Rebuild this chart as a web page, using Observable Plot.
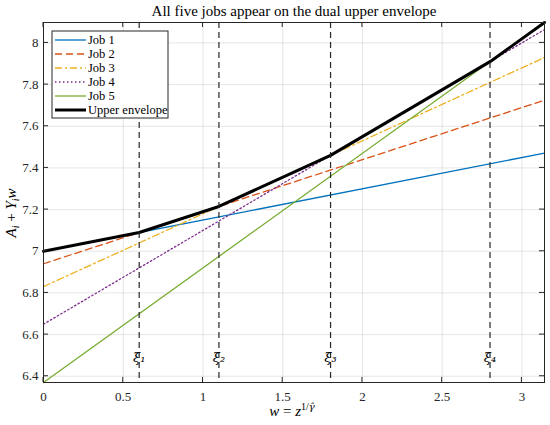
<!DOCTYPE html>
<html><head><meta charset="utf-8">
<script src="https://cdn.jsdelivr.net/npm/d3@7"></script>
<script src="https://cdn.jsdelivr.net/npm/@observablehq/plot@0.6"></script>
<style>body{margin:0;background:#fff;} svg{display:block;}</style>
</head><body><div id="chart"></div>
<script>
const jobs = ["Job 1","Job 2","Job 3","Job 4","Job 5"];
const wEnds = [0, 3.1416];
const startVals = [7.00, 6.94, 6.83, 6.65, 6.37];
const endVals = [7.471, 7.725, 7.930, 8.064, 8.098];
const colors = ["#0072BD","#D95319","#EDB120","#7E2F8E","#77AC30"];
const dashes = [null, "7,4", "7,3,2,3", "1.5,2.5", null];
const envW = [0, 0.6, 1.1, 1.8, 2.8, 3.1416];
const envV = [7.00, 7.09, 7.215, 7.46, 7.91, 8.098];
const breaks = [0.6, 1.1, 1.8, 2.8];
const breakLabels = ["ξ₁","ξ₂","ξ₃","ξ₄"];
const breakLabelY = 6.487;
const xTicks = [0, 0.5, 1, 1.5, 2, 2.5, 3];
const yTicks = [6.4, 6.6, 6.8, 7, 7.2, 7.4, 7.6, 7.8, 8];
const title = "All five jobs appear on the dual upper envelope";

const font = "'Liberation Serif', 'DejaVu Serif', serif";
const lineData = [];
jobs.forEach((j, i) => {
  lineData.push({job: j, w: wEnds[0], v: startVals[i]});
  lineData.push({job: j, w: wEnds[1], v: endVals[i]});
});
const envData = envW.map((w, i) => ({w, v: envV[i]}));

const marks = [
  Plot.gridX(xTicks, {stroke: "#000", strokeOpacity: 0.1}),
  Plot.gridY(yTicks, {stroke: "#000", strokeOpacity: 0.1}),
];
jobs.forEach((j, i) => {
  marks.push(Plot.line(lineData.filter(d => d.job === j), {x: "w", y: "v", stroke: colors[i], strokeWidth: 1.3, strokeDasharray: dashes[i]}));
});
marks.push(Plot.line(envData, {x: "w", y: "v", stroke: "#000", strokeWidth: 3}));
marks.push(Plot.ruleX(breaks, {stroke: "#262626", strokeWidth: 1.2, strokeDasharray: "6,4"}));
marks.push(Plot.text(breaks, {x: d => d, y: breakLabelY, text: (d, i) => breakLabels[i], fontSize: 13, fontStyle: "italic", fill: "#000", fontFamily: "'DejaVu Serif', serif"}));
marks.push(Plot.frame({stroke: "#262626", strokeWidth: 1}));
marks.push(Plot.text([title], {frameAnchor: "top", lineAnchor: "middle", dy: -11, fontSize: 15, fill: "#000", text: d => d}));

const plot = Plot.plot({
  width: 550, height: 425,
  marginLeft: 43, marginRight: 6, marginTop: 22, marginBottom: 43,
  style: {fontFamily: font, fontSize: "13px", background: "#fff", color: "#262626"},
  x: {domain: [0, 3.1416], ticks: xTicks, tickSize: 0, tickPadding: 9, label: null, tickFormat: d => String(d)},
  y: {domain: [6.37, 8.098], ticks: yTicks, tickSize: 0, tickPadding: 5, label: null, tickFormat: d => String(d)},
  marks
});
document.getElementById("chart").appendChild(plot);

const svg = d3.select(plot);
const xs = plot.scale("x"), ys = plot.scale("y");
const L = 43, R = 544, T = 22, B = 382;
const tg = svg.append("g").attr("stroke", "#262626").attr("stroke-width", 1);
xTicks.forEach(t => {
  const px = xs.apply(t);
  tg.append("line").attr("x1", px).attr("x2", px).attr("y1", B).attr("y2", B - 5);
  tg.append("line").attr("x1", px).attr("x2", px).attr("y1", T).attr("y2", T + 5);
});
yTicks.forEach(t => {
  const py = ys.apply(t);
  tg.append("line").attr("x1", L).attr("x2", L + 5).attr("y1", py).attr("y2", py);
  tg.append("line").attr("x1", R).attr("x2", R - 5).attr("y1", py).attr("y2", py);
});

// axis labels
const yl = svg.append("text").attr("transform", "translate(16,213) rotate(-90)")
  .attr("text-anchor", "middle").attr("font-size", 15).attr("font-family", font).attr("fill", "#000");
yl.append("tspan").attr("font-style", "italic").text("A");
yl.append("tspan").attr("font-style", "italic").attr("font-size", 10).attr("dy", 3).text("i");
yl.append("tspan").attr("dy", -3).text(" + ");
yl.append("tspan").attr("font-style", "italic").text("Y");
yl.append("tspan").attr("font-style", "italic").attr("font-size", 10).attr("dy", 3).text("i");
yl.append("tspan").attr("font-style", "italic").attr("dy", -3).text("w");

const xl = svg.append("text").attr("x", 292).attr("y", 416)
  .attr("text-anchor", "middle").attr("font-size", 15).attr("font-family", font).attr("fill", "#000");
xl.append("tspan").attr("font-style", "italic").text("w");
xl.append("tspan").text(" = ");
xl.append("tspan").attr("font-style", "italic").text("z");
xl.append("tspan").attr("font-size", 10).attr("dy", -6).text("1/");
xl.append("tspan").attr("font-size", 10).attr("font-style", "italic").attr("font-family", "'DejaVu Serif', serif").text("γ\u0302");

// legend
const lg = svg.append("g").attr("font-family", font).attr("font-size", 12.5).attr("text-anchor", "start");
lg.append("rect").attr("x", 52).attr("y", 31).attr("width", 116).attr("height", 87)
  .attr("fill", "#fff").attr("stroke", "#262626").attr("stroke-width", 1);
const items = jobs.map((j, i) => ({label: j, color: colors[i], dash: dashes[i], w: 1.3}))
  .concat([{label: "Upper envelope", color: "#000", dash: null, w: 3}]);
items.forEach((it, i) => {
  const y = 40 + i * 14;
  lg.append("line").attr("x1", 55).attr("x2", 86).attr("y1", y).attr("y2", y)
    .attr("stroke", it.color).attr("stroke-width", it.w).attr("stroke-dasharray", it.dash);
  lg.append("text").attr("x", 88).attr("y", y + 4).attr("fill", "#000").text(it.label);
});
</script></body></html>
